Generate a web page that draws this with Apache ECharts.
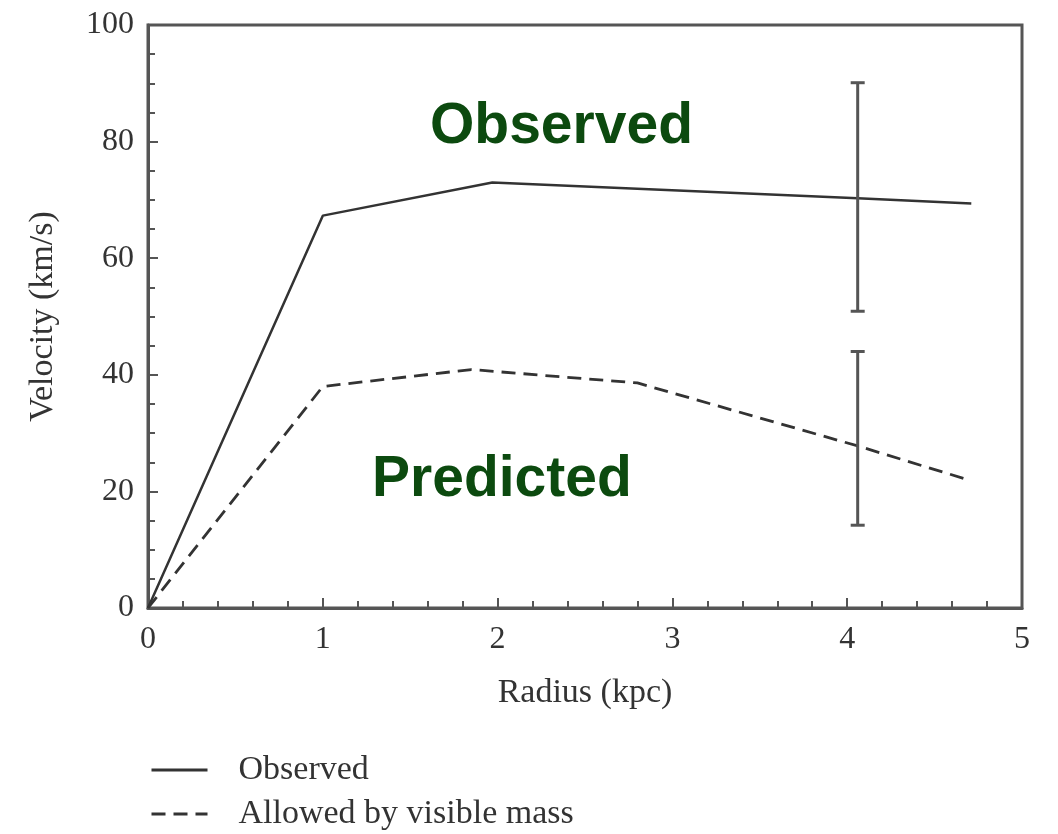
<!DOCTYPE html>
<html>
<head>
<meta charset="utf-8">
<script src="https://cdn.jsdelivr.net/npm/echarts@6/dist/echarts.min.js"></script>
<style>html,body{margin:0;padding:0;background:#fff}#c{width:1058px;height:834px}</style>
</head>
<body>
<div id="c"></div>
<script>
// Data
const observed = [[0, 0], [1, 67.3], [1.97, 73], [4.06, 70.3], [4.71, 69.4]];
const predicted = [[0, 0], [1, 38], [1.85, 40.9], [2.8, 38.6], [4.06, 27.8], [4.69, 22]];
const errorBars = [[4.06, 50.9, 90.1], [4.06, 14.2, 44]];
const seriesNames = ['Observed', 'Allowed by visible mass'];
const annotations = ['Observed', 'Predicted'];

const serif = 'Liberation Serif';
const ink = '#333';
const axisCol = '#555';
const green = '#0c4a0f';

const legendBase = {
  orient: 'horizontal', left: 145, itemWidth: 56, itemHeight: 14,
  itemStyle: { opacity: 0 },
  lineStyle: { width: 3 },
  textStyle: { fontFamily: serif, fontSize: 34, color: ink, padding: [0, 0, 0, 26] }
};

const chart = echarts.init(document.getElementById('c'));
chart.setOption({
  animation: false,
  backgroundColor: '#fff',
  grid: { left: 148, right: 36, top: 25, bottom: 226, show: true, borderColor: axisCol, borderWidth: 3, backgroundColor: 'transparent' },
  xAxis: {
    type: 'value', min: 0, max: 5, interval: 1,
    name: 'Radius (kpc)', nameLocation: 'middle', nameGap: 68,
    nameTextStyle: { fontFamily: serif, fontSize: 34, color: ink },
    axisLine: { lineStyle: { color: axisCol, width: 3 } },
    axisTick: { inside: true, length: 10, lineStyle: { color: axisCol, width: 2 } },
    minorTick: { show: true, splitNumber: 5, length: 7, lineStyle: { color: axisCol, width: 2 } },
    axisLabel: { fontFamily: serif, fontSize: 32, color: ink, margin: 16 },
    splitLine: { show: false }
  },
  yAxis: {
    type: 'value', min: 0, max: 100, interval: 20,
    name: 'Velocity (km/s)', nameLocation: 'middle', nameGap: 88,
    nameTextStyle: { fontFamily: serif, fontSize: 34, color: ink },
    axisLine: { show: true, lineStyle: { color: axisCol, width: 3 } },
    axisTick: { show: true, inside: true, length: 10, lineStyle: { color: axisCol, width: 2 } },
    minorTick: { show: true, splitNumber: 4, length: 7, lineStyle: { color: axisCol, width: 2 } },
    axisLabel: { fontFamily: serif, fontSize: 32, color: ink, margin: 14 },
    splitLine: { show: false }
  },
  legend: [
    Object.assign({}, legendBase, { top: 748, data: [seriesNames[0]] }),
    Object.assign({}, legendBase, { top: 792, data: [seriesNames[1]] })
  ],
  series: [
    { name: seriesNames[0], type: 'line', data: observed, symbol: 'none', lineStyle: { color: ink, width: 2.5 }, itemStyle: { color: ink } },
    { name: seriesNames[1], type: 'line', data: predicted, symbol: 'none', lineStyle: { color: ink, width: 2.8, type: [14, 8] }, itemStyle: { color: ink } },
    {
      type: 'custom', data: errorBars, z: 5,
      renderItem: function (params, api) {
        const top = api.coord([api.value(0), api.value(2)]);
        const bot = api.coord([api.value(0), api.value(1)]);
        const hw = 7;
        const st = { stroke: '#555', lineWidth: 3 };
        return { type: 'group', children: [
          { type: 'line', shape: { x1: top[0], y1: top[1], x2: bot[0], y2: bot[1] }, style: st },
          { type: 'line', shape: { x1: top[0] - hw, y1: top[1], x2: top[0] + hw, y2: top[1] }, style: st },
          { type: 'line', shape: { x1: bot[0] - hw, y1: bot[1], x2: bot[0] + hw, y2: bot[1] }, style: st }
        ]};
      }
    }
  ],
  graphic: [
    { type: 'text', left: 430, top: 99, style: { text: annotations[0], fontFamily: 'Liberation Sans', fontWeight: 'bold', fontSize: 57, fill: green } },
    { type: 'text', left: 372, top: 452, style: { text: annotations[1], fontFamily: 'Liberation Sans', fontWeight: 'bold', fontSize: 57, fill: green } }
  ]
});
</script>
</body>
</html>
